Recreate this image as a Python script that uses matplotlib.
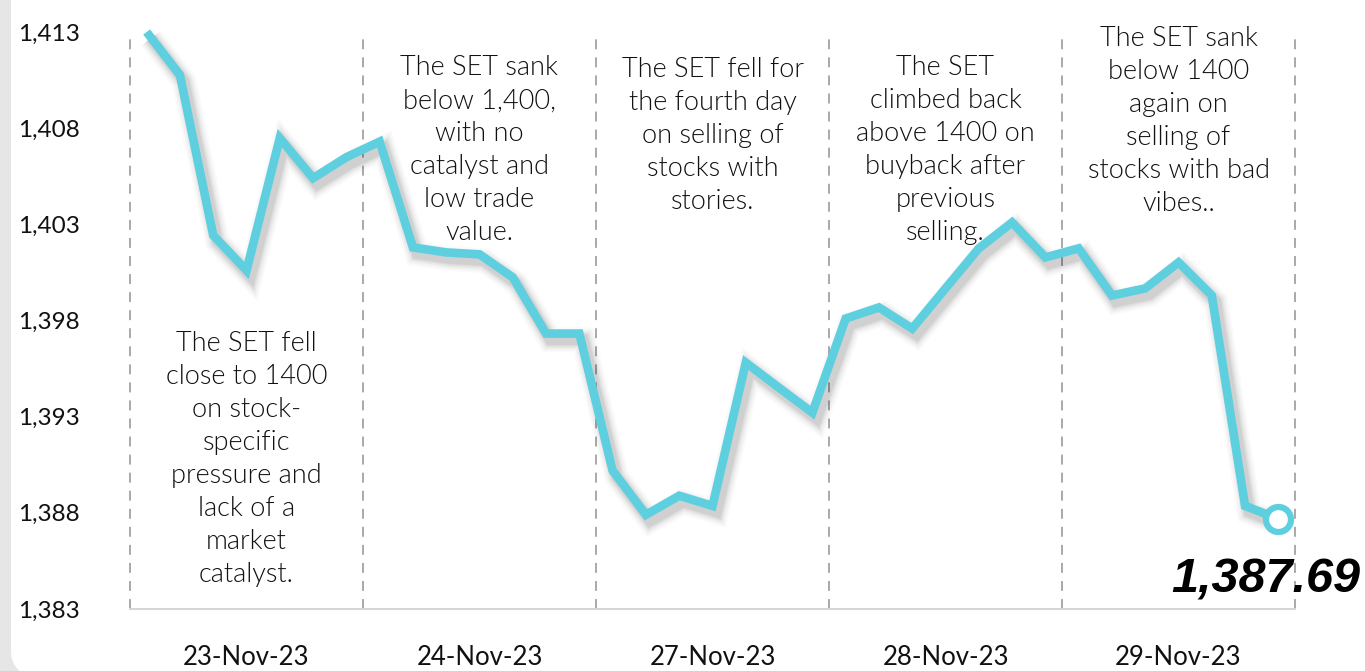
import matplotlib
matplotlib.use("Agg")
import matplotlib.pyplot as plt
import matplotlib.patheffects as pe
from matplotlib.patches import FancyBboxPatch

# ---- data ----
days = ["23-Nov-23", "24-Nov-23", "27-Nov-23", "28-Nov-23", "29-Nov-23"]
points_per_day = 7
set_index = [
    1413.00, 1410.76, 1402.43, 1400.60, 1407.48, 1405.40, 1406.49,
    1407.30, 1401.80, 1401.54, 1401.44, 1400.24, 1397.32, 1397.32,
    1390.19, 1387.90, 1388.89, 1388.36, 1395.81, 1394.50, 1393.21,
    1398.10, 1398.68, 1397.58, 1399.67, 1401.75, 1403.10, 1401.28,
    1401.75, 1399.30, 1399.67, 1401.02, 1399.30, 1388.36, 1387.69,
]
last_label = "1,387.69"
yticks = [1383, 1388, 1393, 1398, 1403, 1408, 1413]
ytick_labels = ["1,383", "1,388", "1,393", "1,398", "1,403", "1,408", "1,413"]
notes = [
    "The SET fell\nclose to 1400\non stock-\nspecific\npressure and\nlack of a\nmarket\ncatalyst.",
    "The SET sank\nbelow 1,400,\nwith no\ncatalyst and\nlow trade\nvalue.",
    "The SET fell for\nthe fourth day\non selling of\nstocks with\nstories.",
    "The SET\nclimbed back\nabove 1400 on\nbuyback after\nprevious\nselling.",
    "The SET sank\nbelow 1400\nagain on\nselling of\nstocks with bad\nvibes..",
]
note_tops = [1397.45, 1411.8, 1411.7, 1411.8, 1413.3]

LINE = "#5dcfdf"
FONT = "Lato"

W, H = 1365, 671
fig = plt.figure(figsize=(W / 100, H / 100), dpi=100)
fig.patch.set_facecolor("#e6e6e6")
card = FancyBboxPatch((11 / W, -14 / H), 1.2, 1.2,
                      boxstyle="round,pad=0,rounding_size=0.05",
                      transform=fig.transFigure, facecolor="white",
                      edgecolor="none", zorder=-5)
fig.patches.append(card)

ax = fig.add_axes([130 / W, 1 - 609 / H, (1295 - 130) / W, (609 - 32) / H])
ax.set_facecolor("none")
ax.set_zorder(2)

n = len(set_index)
xs = list(range(n))
ax.set_xlim(-0.5, n - 0.5)
ax.set_ylim(1383, 1413)

# day separators
for k in range(len(days) + 1):
    ax.plot([k * points_per_day - 0.5] * 2, [1383, 1413], color="#a3a3a3",
            lw=1.3, ls=(0, (5.5, 4.5)), zorder=1, clip_on=False)

# line with soft shadow
shadow = []
for w, a in [(18, 0.02), (15, 0.03), (12, 0.04), (9.5, 0.05), (7.5, 0.05)]:
    shadow.append(pe.SimpleLineShadow(offset=(3, -4.5), shadow_color="black",
                                      alpha=a, linewidth=w))
shadow.append(pe.Normal())
ax.plot(xs, set_index, color=LINE, lw=6.2, solid_joinstyle="miter",
        solid_capstyle="butt", zorder=3, clip_on=False, path_effects=shadow)
ax.plot(xs[-1], set_index[-1], marker="o", ms=18, mfc="white", mec=LINE,
        mew=4.5, zorder=4, clip_on=False)
ax.text(xs[-1] + 2.45, set_index[-1] - 2.0, last_label, ha="right", va="top",
        fontsize=35, fontweight="bold", fontstyle="italic",
        family="Liberation Sans", color="black", zorder=5, clip_on=False)

# annotations
for k, (txt, top) in enumerate(zip(notes, note_tops)):
    cx = k * points_per_day + (points_per_day - 1) / 2
    ax.text(cx, top, txt, ha="center", va="top", fontsize=19.5,
            family=FONT, fontweight=300, color="#111111",
            linespacing=1.4, zorder=5)

# axes styling
for s in ["top", "right", "left"]:
    ax.spines[s].set_visible(False)
ax.spines["bottom"].set_color("#d6d6d6")
ax.spines["bottom"].set_linewidth(1.5)
ax.set_yticks(yticks)
ax.set_yticklabels(ytick_labels, fontsize=17.5, family=FONT, color="#111111")
for lab in ax.get_yticklabels():
    lab.set_horizontalalignment("left")
ax.tick_params(axis="y", length=0, pad=80.5)
ax.set_xticks([k * points_per_day + (points_per_day - 1) / 2 for k in range(len(days))])
ax.set_xticklabels(days, fontsize=18.5, family=FONT, color="#111111")
ax.tick_params(axis="x", length=0, pad=26)

fig.savefig("out.png", dpi=100)
